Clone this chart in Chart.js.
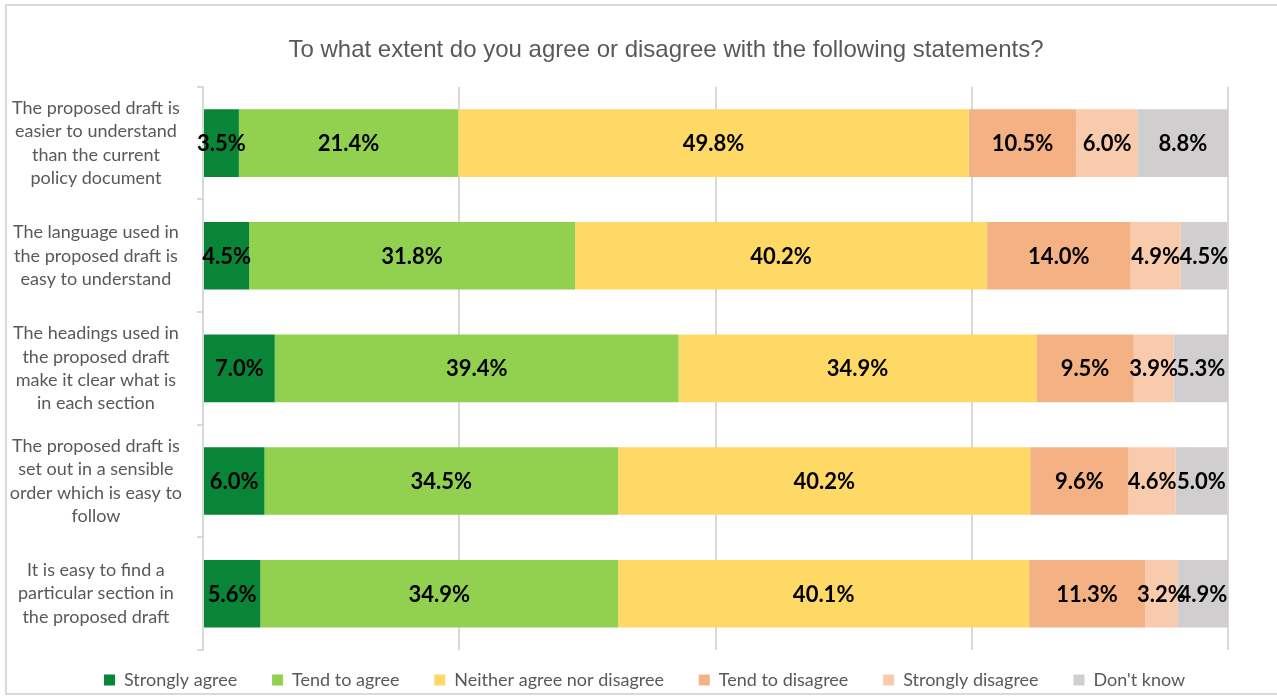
<!DOCTYPE html>
<html>
<head>
<meta charset="utf-8">
<script src="https://cdn.jsdelivr.net/npm/chart.js@4/dist/chart.umd.min.js"></script>
<style>
    html, body {
        margin: 0;
        padding: 0;
        background: #ffffff;
    }
    #wrap {
        position: relative;
        width: 1277px;
        height: 698px;
    }
    #frame {
        position: absolute;
        left: 5px;
        top: 4px;
        width: 1280px;
        height: 691px;
        border: 2px solid #d9d9d9;
        box-sizing: border-box;
    }
</style>
</head>
<body>
<div id="wrap">
    <div id="frame"></div>
    <canvas id="surveyChart" width="1277" height="698"></canvas>
</div>
<script>
    const statements = [
        ['The proposed draft is', 'easier to understand', 'than the current', 'policy document'],
        ['The language used in', 'the proposed draft is', 'easy to understand'],
        ['The headings used in', 'the proposed draft', 'make it clear what is', 'in each section'],
        ['The proposed draft is', 'set out in a sensible', 'order which is easy to', 'follow'],
        ['It is easy to find a', 'particular section in', 'the proposed draft']
    ];

    const answers = ['Strongly agree', 'Tend to agree', 'Neither agree nor disagree', 'Tend to disagree', 'Strongly disagree', "Don't know"];
    const answerColors = ['#088537', '#92d050', '#ffd966', '#f4b183', '#f8cbad', '#d0cece'];

    // percentages per answer, one value per statement
    const stronglyAgree = [3.5, 4.5, 7.0, 6.0, 5.6];
    const tendToAgree = [21.4, 31.8, 39.4, 34.5, 34.9];
    const neither = [49.8, 40.2, 34.9, 40.2, 40.1];
    const tendToDisagree = [10.5, 14.0, 9.5, 9.6, 11.3];
    const stronglyDisagree = [6.0, 4.9, 3.9, 4.6, 3.2];
    const dontKnow = [8.8, 4.5, 5.3, 5.0, 4.9];

    const seriesValues = [stronglyAgree, tendToAgree, neither, tendToDisagree, stronglyDisagree, dontKnow];

    const textGrey = '#595959';
    const gridGrey = '#d9d9d9';

    // writes the percentage in the middle of every segment
    const segmentLabels = {
        id: 'segmentLabels',
        afterDatasetsDraw(chart) {
            const ctx = chart.ctx;
            ctx.save();
            ctx.font = 'bold 22px Lato';
            ctx.fillStyle = '#000000';
            ctx.textAlign = 'center';
            ctx.textBaseline = 'middle';
            chart.data.datasets.forEach((ds, i) => {
                const meta = chart.getDatasetMeta(i);
                meta.data.forEach((bar, j) => {
                    const value = ds.data[j];
                    ctx.fillText(value.toFixed(1) + '%', (bar.x + bar.base) / 2, bar.y + 1);
                });
            });
            ctx.restore();
        }
    };

    // title sits a bit right of the canvas centre, legend starts under the labels
    const blockShift = {
        id: 'blockShift',
        afterLayout(chart) {
            chart.titleBlock.left = 104;
            chart.legend.left = 83;
        }
    };

    const chartData = {
        labels: statements,
        datasets: answers.map((name, i) => ({
            label: name,
            data: seriesValues[i],
            backgroundColor: answerColors[i],
            borderWidth: 0,
            categoryPercentage: 1,
            barPercentage: 0.6
        }))
    };

    new Chart(document.getElementById('surveyChart'), {
        type: 'bar',
        data: chartData,
        plugins: [segmentLabels, blockShift],
        options: {
            indexAxis: 'y',
            responsive: false,
            animation: false,
            layout: {
                padding: {left: 10, right: 49, top: 0, bottom: 0}
            },
            scales: {
                x: {
                    stacked: true,
                    min: 0,
                    max: 100,
                    ticks: {display: false, stepSize: 25},
                    grid: {color: gridGrey, lineWidth: 2, drawTicks: false},
                    border: {display: false}
                },
                y: {
                    stacked: true,
                    afterFit: (scale) => {
                        scale.width = 193;
                        // labels sit in the middle of each band, no extra room needed
                        scale.paddingTop = 0;
                        scale.paddingBottom = 0;
                    },
                    ticks: {
                        color: textGrey,
                        font: {family: 'Lato', size: 18, lineHeight: 1.3},
                        crossAlign: 'center',
                        padding: 15
                    },
                    grid: {
                        offset: true,
                        drawOnChartArea: false,
                        drawTicks: true,
                        tickLength: 6,
                        color: gridGrey,
                        lineWidth: 2
                    },
                    border: {color: gridGrey, width: 2}
                }
            },
            plugins: {
                title: {
                    display: true,
                    text: 'To what extent do you agree or disagree with the following statements?',
                    color: textGrey,
                    font: {family: 'Liberation Sans', size: 24, weight: 'normal'},
                    padding: {top: 36, bottom: 22}
                },
                legend: {
                    position: 'bottom',
                    align: 'start',
                    maxHeight: 48,
                    labels: {
                        color: textGrey,
                        font: {family: 'Lato', size: 18},
                        boxWidth: 11,
                        boxHeight: 11,
                        padding: 21,
                        generateLabels: (chart) => {
                            const items = Chart.defaults.plugins.legend.labels.generateLabels(chart);
                            items.forEach((item, i) => {
                                if (i < items.length - 1) {
                                    item.text += '   ';
                                }
                            });
                            return items;
                        }
                    }
                },
                tooltip: {enabled: false}
            }
        }
    });
</script>
</body>
</html>
